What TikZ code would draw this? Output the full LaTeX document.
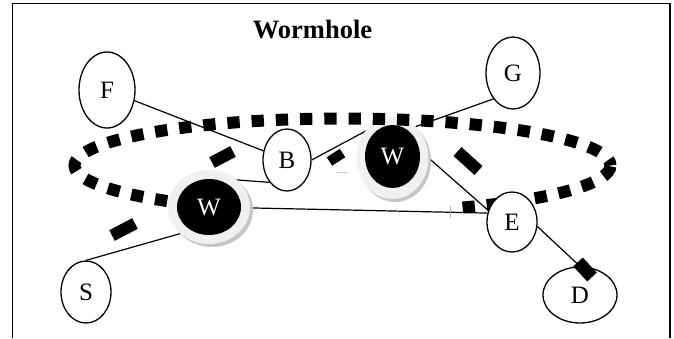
\documentclass[tikz,border=0pt]{standalone}
\usepackage{fontspec}
\setmainfont{Liberation Serif}
\usetikzlibrary{shapes.geometric}
\pgfdeclarelayer{lines}
\pgfdeclarelayer{wtwo}
\pgfdeclarelayer{dots}
\pgfsetlayers{lines,wtwo,dots,main}
\begin{document}
\begin{tikzpicture}[x=1pt,y=-1pt,
  vnode/.style={ellipse, draw, line width=1.3pt, fill=white, inner sep=0pt, font=\fontsize{25}{25}\selectfont},
  wnode/.style={ellipse, fill=black, text=white, inner sep=0pt, font=\fontsize{25}{25}\selectfont},
  ringfill/.style={fill=gray!12},
  shadefill/.style={fill=gray!45},
  link/.style={line width=1.2pt},
  bar/.style={line width=12pt},
  dotring/.style={line width=12pt, dash pattern=on 12.3pt off 11.95pt, dash phase=6.15pt},
  frame/.style={line width=1.5pt}
]
\useasboundingbox (0,0) rectangle (674,338);
\draw[frame] (12.5,338) -- (12.5,3.5) -- (670,3.5) -- (670,338);

\node[font=\fontsize{26.5}{26.5}\selectfont\bfseries, anchor=base] (title) at (312.5,38) {Wormhole};

% W2 (beneath the dotted ring)
\begin{pgfonlayer}{wtwo}
\fill[shadefill] (395,161) ellipse [x radius=36, y radius=41];
\fill[ringfill] (392.5,158) ellipse [x radius=36, y radius=41];
\node[wnode, minimum width=55pt, minimum height=63pt] (W2) at (392.5,156.5) {W};
\end{pgfonlayer}

% dotted ring, open at the bottom between W1 and E
\begin{pgfonlayer}{dots}
\coordinate (rend) at (610.5,165.5);
\draw[dotring] (rend) arc [start angle=0, end angle=-245, x radius=268, y radius=47];
\draw[dotring, dash phase=23.4pt] (rend) arc [start angle=0, end angle=64.5, x radius=268, y radius=47];
\end{pgfonlayer}

% W1
\fill[shadefill] (212,210) ellipse [x radius=41, y radius=37];
\fill[ringfill] (209,207) ellipse [x radius=41, y radius=37];
\node[wnode, minimum width=64pt, minimum height=56pt] (W1) at (209,207) {W};

% ordinary nodes
\node[vnode, minimum width=56pt, minimum height=76pt] (F) at (107,90) {F};
\node[vnode, minimum width=54pt, minimum height=72pt] (G) at (513,73) {G};
\node[vnode, minimum width=48pt, minimum height=62pt] (B) at (287,160) {B};
\node[vnode, minimum width=50pt, minimum height=62pt] (S) at (86,292) {S};
\node[vnode, minimum width=50pt, minimum height=60pt] (E) at (512,222) {E};
\node[vnode, minimum width=74pt, minimum height=56pt] (D) at (580,295) {D};

\coordinate (w2a) at (390,118);
\coordinate (w2b) at (392,135);
\coordinate (w2c) at (415,146);
\coordinate (w1a) at (225,179);
\coordinate (w1b) at (200,228);

% connectors (behind)
\begin{pgfonlayer}{lines}
\draw[link] (F) -- (B);
\draw[link] (B.east) -- (w2a);
\draw[link] (w2b) -- (G.south west);
\draw[link] (B.south west) -- (w1a);
\draw[link] (W1.center) -- (E.160);
\draw[link] (w2c) -- (E.154);
\draw[link] (E.-10) -- (D.north);
\draw[link] (S.north) -- (w1b);
\draw[gray!35, line width=1pt] (336,172) -- (348,172);
\draw[gray!60, line width=0.6pt] (450,206) -- (450,218);
\end{pgfonlayer}

% thick bars
\draw[bar] (112,235.5) -- (135,223.5);
\draw[bar] (212,162.5) -- (233,151.5);
\draw[bar, line width=10pt] (329.5,161.5) -- (342.5,153);
\draw[bar] (457.5,151.5) -- (478.5,170.5);
\draw[bar, line width=13pt] (578,262) -- (592,277);
\end{tikzpicture}
\end{document}
